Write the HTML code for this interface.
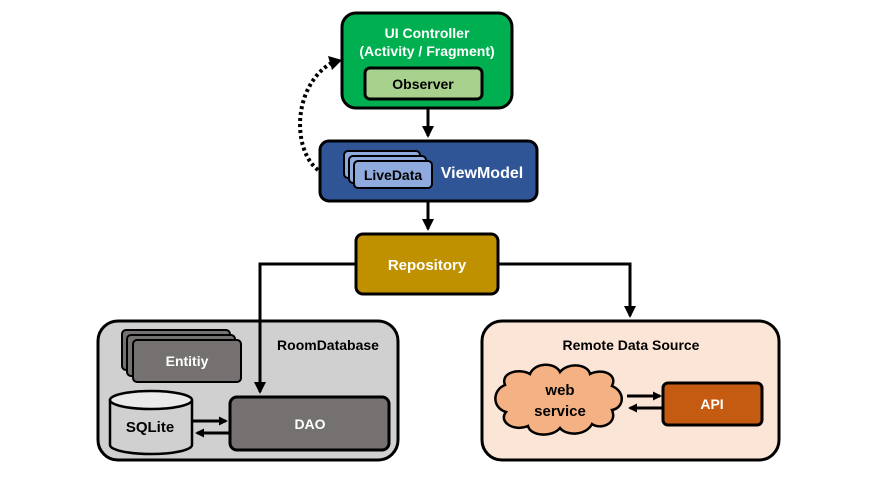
<!DOCTYPE html>
<html><head><style>
body{margin:0;background:#fff;}
svg text{font-family:"Liberation Sans",sans-serif;font-weight:bold;}
</style></head><body>
<svg width="875" height="492" viewBox="0 0 875 492" xmlns="http://www.w3.org/2000/svg">
<defs>
<marker id="ah" markerWidth="9" markerHeight="9" refX="7" refY="4.5" orient="auto" markerUnits="userSpaceOnUse"><path d="M0,0 L9,4.5 L0,9 z" fill="#000"/></marker>
<marker id="ah2" markerWidth="12" markerHeight="12" refX="10" refY="6" orient="auto" markerUnits="userSpaceOnUse"><path d="M0,0 L12,6 L0,12 z" fill="#000"/></marker>
</defs>
<!-- connectors -->
<line x1="428" y1="108" x2="428" y2="136" stroke="#000" stroke-width="3" marker-end="url(#ah2)"/>
<line x1="428" y1="201" x2="428" y2="229" stroke="#000" stroke-width="3" marker-end="url(#ah2)"/>
<polyline points="498,264 630,264 630,316" fill="none" stroke="#000" stroke-width="3" marker-end="url(#ah2)"/>
<path d="M318,170 C292,150 292,85 333,62" fill="none" stroke="#000" stroke-width="4" stroke-dasharray="3,3"/>
<path d="M328,56 L342,60 L332,70 z" fill="#000"/>
<!-- UI Controller -->
<rect x="342" y="13" width="170" height="95" rx="14" fill="#00b050" stroke="#000" stroke-width="3"/>
<text x="427" y="38" font-size="14" fill="#fff" text-anchor="middle">UI Controller</text>
<text x="427" y="56" font-size="14" fill="#fff" text-anchor="middle">(Activity / Fragment)</text>
<rect x="365" y="68" width="117" height="31" rx="5" fill="#a9d18e" stroke="#000" stroke-width="3"/>
<text x="423" y="89" font-size="14" fill="#000" text-anchor="middle">Observer</text>
<!-- ViewModel -->
<rect x="320" y="141" width="217" height="60" rx="9" fill="#2f5597" stroke="#000" stroke-width="3"/>
<rect x="344" y="151" width="76" height="27" rx="4" fill="#8faadc" stroke="#000" stroke-width="2"/>
<rect x="349" y="156" width="77" height="27" rx="4" fill="#8faadc" stroke="#000" stroke-width="2"/>
<rect x="354" y="161" width="78" height="27" rx="4" fill="#8faadc" stroke="#000" stroke-width="2"/>
<text x="393" y="180" font-size="14" fill="#000" text-anchor="middle">LiveData</text>
<text x="482" y="178" font-size="16" fill="#fff" text-anchor="middle">ViewModel</text>
<!-- Repository -->
<rect x="356" y="234" width="142" height="60" rx="7" fill="#bf9000" stroke="#000" stroke-width="3"/>
<text x="427" y="270" font-size="15" fill="#fff" text-anchor="middle">Repository</text>
<!-- RoomDatabase -->
<rect x="98" y="321" width="300" height="139" rx="20" fill="#d0d0d0" stroke="#000" stroke-width="3"/>
<polyline points="356,264 260,264 260,392" fill="none" stroke="#000" stroke-width="3" marker-end="url(#ah2)"/>
<text x="328" y="350" font-size="14" fill="#000" text-anchor="middle">RoomDatabase</text>
<rect x="122" y="330" width="108" height="40" rx="4" fill="#767171" stroke="#000" stroke-width="2"/>
<rect x="127" y="335" width="108" height="41" rx="4" fill="#767171" stroke="#000" stroke-width="2"/>
<rect x="133" y="340" width="108" height="42" rx="4" fill="#767171" stroke="#000" stroke-width="2"/>
<text x="187" y="366" font-size="14" fill="#fff" text-anchor="middle">Entitiy</text>
<path d="M110,400 L110,445 A41,9 0 0 0 192,445 L192,400" fill="#d0d0d0" stroke="#000" stroke-width="2.5"/>
<ellipse cx="151" cy="400" rx="41" ry="9" fill="#eaeaea" stroke="#000" stroke-width="2.5"/>
<text x="150" y="432" font-size="15" fill="#000" text-anchor="middle">SQLite</text>
<rect x="230" y="397" width="159" height="53" rx="7" fill="#767171" stroke="#000" stroke-width="3"/>
<text x="310" y="429" font-size="14" fill="#fff" text-anchor="middle">DAO</text>
<line x1="193" y1="421" x2="226" y2="421" stroke="#000" stroke-width="3" marker-end="url(#ah)"/>
<line x1="229" y1="433" x2="197" y2="433" stroke="#000" stroke-width="3" marker-end="url(#ah)"/>
<!-- Remote -->
<rect x="482" y="321" width="297" height="139" rx="20" fill="#fbe5d6" stroke="#000" stroke-width="3"/>
<text x="631" y="350" font-size="14" fill="#000" text-anchor="middle">Remote Data Source</text>
<path d="M505,385 C500,372 520,368 530,374 C535,362 555,362 560,372 C568,362 588,364 590,374 C602,368 618,374 612,386 C626,392 624,408 612,410 C618,424 600,430 592,424 C586,436 566,436 560,428 C552,438 530,436 528,426 C514,432 498,422 506,412 C492,408 492,390 505,385 Z" fill="#f4b183" stroke="#000" stroke-width="2.5"/>
<text x="560" y="395" font-size="15" fill="#000" text-anchor="middle">web</text>
<text x="560" y="416" font-size="15" fill="#000" text-anchor="middle">service</text>
<rect x="663" y="383" width="99" height="42" rx="5" fill="#c55a11" stroke="#000" stroke-width="3"/>
<text x="712" y="409" font-size="14" fill="#fff" text-anchor="middle">API</text>
<line x1="627" y1="396" x2="660" y2="396" stroke="#000" stroke-width="3" marker-end="url(#ah)"/>
<line x1="662" y1="408" x2="630" y2="408" stroke="#000" stroke-width="3" marker-end="url(#ah)"/>
</svg>
</body></html>
